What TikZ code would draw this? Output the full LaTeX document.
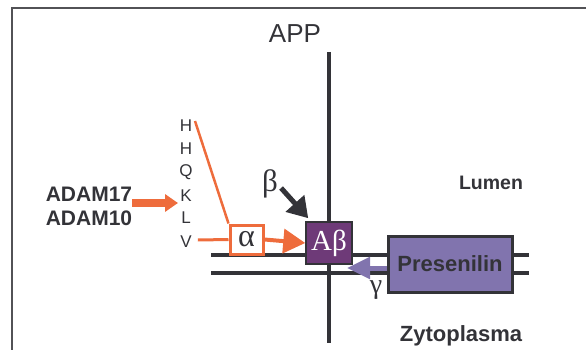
\documentclass[tikz,border=0pt]{standalone}
\usepackage{fontspec}
\setmainfont{Liberation Sans}
\newfontfamily\greekfont{Liberation Serif}
\usetikzlibrary{calc, positioning}
\usetikzlibrary{arrows.meta}

\definecolor{membrane}{HTML}{333338}
\definecolor{adamorange}{HTML}{EE6C3C}
\definecolor{abpurple}{HTML}{6E3A78}
\definecolor{pslavender}{HTML}{8174AE}

\begin{document}
\begin{tikzpicture}[x=1pt, y=-1pt,
    membrane/.style={line width=4.5pt, draw=membrane},
    seqletter/.style={font=\fontsize{17}{17}\selectfont, text=membrane, inner sep=0pt},
    boldlabel/.style={font=\bfseries\fontsize{#1}{#1}\selectfont, text=membrane},
    greeklabel/.style={font=\greekfont\fontsize{#1}{#1}\selectfont, text=membrane, inner sep=0pt}]
\useasboundingbox (0,0) rectangle (586,350);
\def\upperY{255}
\def\lowerY{273}

% frame, cut at right and bottom
\draw[line width=2pt, draw=membrane!85] (12,352) |- (588,8);

% membrane
\node[font=\fontsize{26}{26}\selectfont, text=membrane] (app) at (295,34) {APP};
\draw[membrane] (329,52) -- (329,343);
\draw[membrane] (211,\upperY) -- (529,\upperY);
\draw[membrane] (211,\lowerY) -- (529,\lowerY);

\node[boldlabel=19.5] (lumen) at (491,183) {Lumen};
\node[boldlabel=22] (zyto) at (461,336) {Zytoplasma};

% boxes
\node[draw=membrane, line width=1.5pt, fill=abpurple, minimum width=46pt,
    minimum height=42pt, inner sep=0pt, text=white,
    font=\greekfont\fontsize{29}{29}\selectfont] (abeta) at (329,243) {Aβ};
\node[draw=membrane, line width=3pt, fill=pslavender, minimum width=124pt,
    minimum height=56pt, inner sep=0pt, boldlabel=22] (ps) at (450,264) {Presenilin};
\node[draw=adamorange, line width=3pt, fill=white, minimum width=33pt,
    minimum height=29pt, inner sep=0pt, greeklabel=32] (alpha) at (246.5,239.5) {α};

% sequence
\node[seqletter] (h1) at (186,126) {H};
\node[seqletter] (h2) at (186,149) {H};
\node[seqletter] (q) at (186,172) {Q};
\node[seqletter] (k) at (186,196) {K};
\node[seqletter] (l) at (186,218) {L};
\node[seqletter] (v) at (186,242) {V};

\coordinate (htop) at (195,121);
\draw[adamorange, line width=2.5pt] (htop) -- (alpha.north west);
\draw[adamorange, line width=3pt] ($(v.east)+(6,-2)$) -- (alpha.west);
\draw[adamorange, line width=4pt, -{Triangle[length=22pt, width=24pt]}]
    (alpha.east) -- (abeta.west);

% secretases
\node[boldlabel=21, align=left, inner sep=0pt] (adam) at (89,206) {ADAM17\\[3pt]ADAM10};
\coordinate (adamtip) at (178,203);
\draw[adamorange, line width=8pt, -{Triangle[length=13pt, width=17pt]}]
    (adam.east |- adamtip) -- (adamtip);

\node[greeklabel=31] (beta) at (270,184) {β};
\draw[membrane, line width=5pt, -{Triangle[length=20pt, width=24pt]}]
    ($(beta.east)+(3,4)$) -- ($(abeta.north west)+(3,-3)$);

\node[greeklabel=28] (gamma) at (376,290) {γ};
\coordinate (gammatip) at (347,268);
\draw[pslavender, line width=5pt, -{Triangle[length=23pt, width=21pt]}]
    (ps.west |- gammatip) -- (gammatip);
\end{tikzpicture}
\end{document}
